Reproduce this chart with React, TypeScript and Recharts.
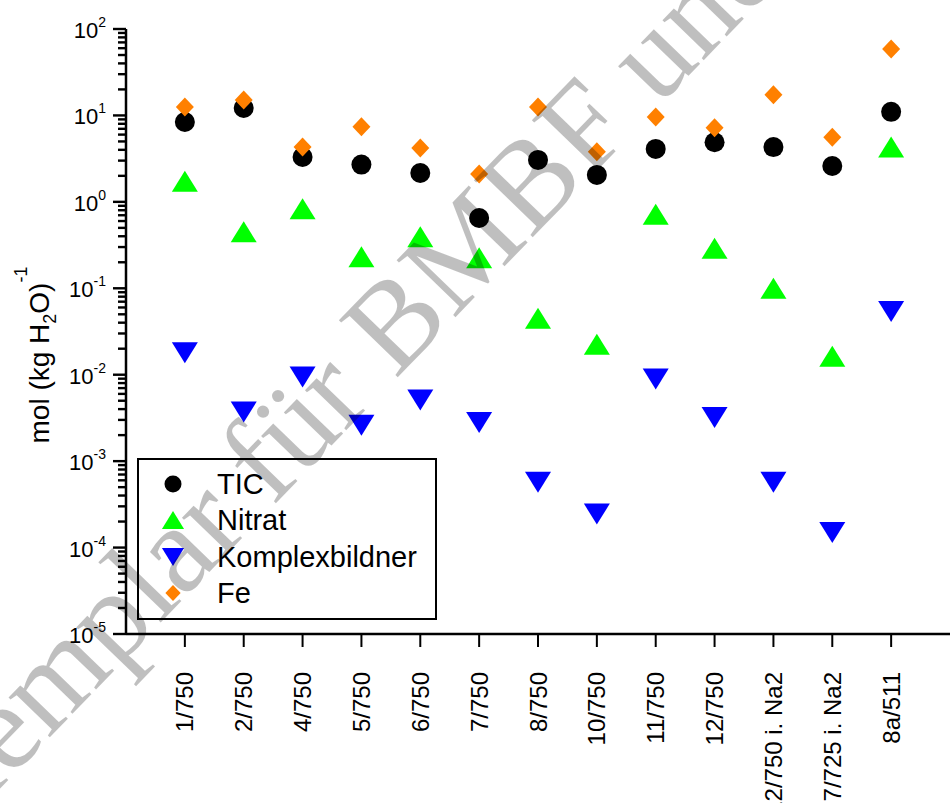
import { Label, Legend, Scatter, ScatterChart, XAxis, YAxis } from 'recharts';

// sample names along the x axis
const samples = [
  '1/750', '2/750', '4/750', '5/750', '6/750', '7/750', '8/750',
  '10/750', '11/750', '12/750', '12/750 i. Na2', '7/725 i. Na2', '8a/511',
];

// mol (kg H2O)^-1
const tic = [8.4, 12.2, 3.3, 2.7, 2.16, 0.65, 3.06, 2.05, 4.1, 4.9, 4.3, 2.6, 11.0];
const nitrat = [1.73, 0.45, 0.83, 0.231, 0.394, 0.225, 0.045, 0.0225, 0.72, 0.29, 0.1, 0.0164, 4.3];
const komplex = [0.018, 0.0037, 0.0094, 0.0026, 0.0051, 0.0028, 0.00057, 0.000244, 0.0089, 0.0032, 0.00057, 0.000149, 0.054];
const fe = [12.5, 15.1, 4.3, 7.4, 4.2, 2.1, 12.5, 3.8, 9.6, 7.2, 17.3, 5.6, 58.7];

// y axis: decades with labels, minor steps without
const decades = [-5, -4, -3, -2, -1, 0, 1, 2];
const minorSteps = [2, 3, 4, 5, 6, 7, 8, 9];

const xTicks = samples.map((_, i) => i + 1);
const yTicks = decades.flatMap((d) =>
  d === 2 ? [10 ** d] : [10 ** d, ...minorSteps.map((m) => m * 10 ** d)],
);

type Kind = 'circle' | 'up' | 'down' | 'diamond';

const series: { name: string; values: number[]; color: string; kind: Kind }[] = [
  { name: 'TIC', values: tic, color: '#000000', kind: 'circle' },
  { name: 'Nitrat', values: nitrat, color: '#00ff00', kind: 'up' },
  { name: 'Komplexbildner', values: komplex, color: '#0000ff', kind: 'down' },
  { name: 'Fe', values: fe, color: '#ff8000', kind: 'diamond' },
];

const FONT = "'Liberation Sans', Arial, sans-serif";

function Marker({ cx, cy, kind, color, s = 1 }: { cx?: number; cy?: number; kind: Kind; color: string; s?: number }) {
  if (cx == null || cy == null) return null;
  if (kind === 'circle') return <circle cx={cx} cy={cy} r={10 * s} fill={color} />;
  if (kind === 'up') {
    const w = 13 * s, h = 10.5 * s;
    return <polygon points={`${cx},${cy - h} ${cx + w},${cy + h} ${cx - w},${cy + h}`} fill={color} />;
  }
  if (kind === 'down') {
    const w = 13 * s, h = 10.5 * s;
    return <polygon points={`${cx - w},${cy - h} ${cx + w},${cy - h} ${cx},${cy + h}`} fill={color} />;
  }
  const w = 9 * s, h = 9.5 * s;
  return <polygon points={`${cx},${cy - h} ${cx + w},${cy} ${cx},${cy + h} ${cx - w},${cy}`} fill={color} />;
}

// log axis tick: long mark + 10^n label on decades, short mark otherwise
function YTick(props: any) {
  const { x, y, payload } = props;
  const e = Math.log10(payload.value);
  const major = Math.abs(e - Math.round(e)) < 1e-6;
  const len = major ? 13 : 8;
  return (
    <g>
      <rect x={x - len} y={y - 1.2} width={len} height={2.4} fill="#000" />
      {major && (
        <text x={x - 20} y={y + 9} textAnchor="end" fontSize={22} fill="#000" fontFamily={FONT}>
          10<tspan dy={-11} fontSize={14}>{Math.round(e)}</tspan>
        </text>
      )}
    </g>
  );
}

function XTick(props: any) {
  const { x, y, payload } = props;
  return (
    <text
      transform={`rotate(-90 ${x} ${y})`}
      x={x}
      y={y}
      dy="0.36em"
      textAnchor="end"
      fontSize={24}
      fill="#000"
      fontFamily={FONT}
    >
      {samples[payload.value - 1]}
    </text>
  );
}

const legendRows = [26, 62, 99, 135];

function LegendBox() {
  return (
    <svg width={300} height={163} style={{ display: 'block' }}>
      <rect x={1} y={1} width={298} height={160} fill="#fff" stroke="#000" strokeWidth={2} />
      {series.map((s, i) => (
        <g key={s.name}>
          <Marker cx={36} cy={legendRows[i]} kind={s.kind} color={s.color} s={0.85} />
          <text x={80} y={legendRows[i] + 10} fontSize={29} fill="#000" fontFamily={FONT}>
            {s.name}
          </text>
        </g>
      ))}
    </svg>
  );
}

export default function App() {
  return (
    <div style={{ position: 'relative', width: 952, height: 803, fontFamily: FONT, background: '#fff' }}>
      <style>{'body{margin:0}'}</style>
      <ScatterChart width={952} height={803} margin={{ top: 29, right: 2, bottom: 0, left: 0 }}>
        <XAxis
          dataKey="x"
          type="number"
          domain={[0, 14]}
          ticks={xTicks}
          interval={0}
          height={169}
          tickSize={13}
          tickMargin={25}
          tickLine={{ stroke: '#000', strokeWidth: 2 }}
          axisLine={{ stroke: '#000', strokeWidth: 2.5 }}
          tick={<XTick />}
        />
        <XAxis
          xAxisId="top"
          orientation="top"
          type="number"
          domain={[0, 14]}
          height={0}
          tick={false}
          tickLine={false}
          axisLine={{ stroke: '#000', strokeWidth: 2.5 }}
        />
        <YAxis
          dataKey="y"
          type="number"
          scale="log"
          domain={[1e-5, 100]}
          allowDataOverflow
          ticks={yTicks}
          interval={0}
          width={126}
          tickSize={0}
          tickMargin={0}
          tickLine={false}
          axisLine={{ stroke: '#000', strokeWidth: 2.5 }}
          tick={<YTick />}
        >
          <Label
            content={() => (
              <text transform="translate(49 355) rotate(-90)" textAnchor="middle" fontSize={28} fill="#000" fontFamily={FONT}>
                mol (kg H<tspan dy={7} fontSize={18}>2</tspan>
                <tspan dy={-7}>O)</tspan>
                <tspan dy={-22} fontSize={18}>-1</tspan>
              </text>
            )}
          />
        </YAxis>
        <YAxis
          yAxisId="right"
          orientation="right"
          type="number"
          scale="log"
          domain={[1e-5, 100]}
          width={0}
          tick={false}
          tickLine={false}
          axisLine={{ stroke: '#000', strokeWidth: 2.5 }}
        />
        <Legend
          layout="horizontal"
          verticalAlign="middle"
          align="center"
          wrapperStyle={{ position: 'absolute', left: 137, top: 458, width: 300, height: 163 }}
          content={() => <LegendBox />}
        />
        {series.map((s) => (
          <Scatter
            key={s.name}
            name={s.name}
            data={s.values.map((v, i) => ({ x: i + 1, y: v }))}
            fill={s.color}
            isAnimationActive={false}
            shape={(p: any) => <Marker cx={p.cx} cy={p.cy} kind={s.kind} color={s.color} />}
          />
        ))}
      </ScatterChart>
      <svg width={952} height={803} style={{ position: 'absolute', left: 0, top: 0, pointerEvents: 'none' }}>
        <text
          transform="translate(-87 879) rotate(-46)"
          fontFamily="'Liberation Serif', 'Times New Roman', serif"
          fontSize={125}
          fill="#000"
          fillOpacity={0.25}
        >
          Exemplar für BMBF und
        </text>
      </svg>
    </div>
  );
}
